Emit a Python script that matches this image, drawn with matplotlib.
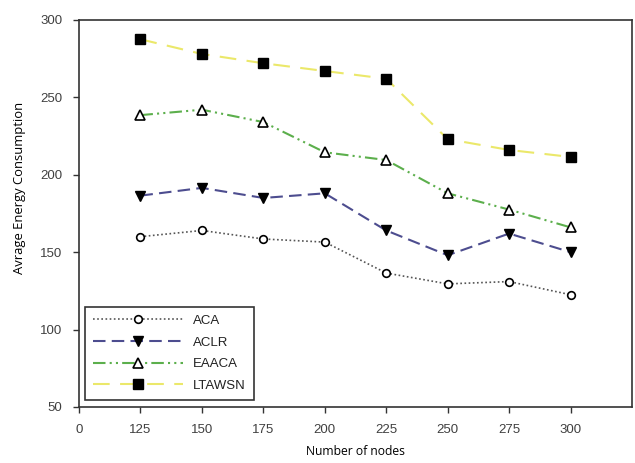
import matplotlib
matplotlib.use("Agg")
import matplotlib.pyplot as plt

# Data
node_labels = ["0", "125", "150", "175", "200", "225", "250", "275", "300"]
nodes_pos = [1, 2, 3, 4, 5, 6, 7, 8]

aca = [160, 164, 158.5, 156.5, 136.5, 129.5, 131, 122.5]
aclr = [186.5, 191.5, 185, 188, 164, 148, 162, 150]
eaaca = [238.5, 242, 234, 214.5, 209.5, 188, 177.5, 166]
ltawsn = [287.5, 278, 272, 267, 262, 223, 216, 211.5]

fig = plt.figure(figsize=(6.35, 4.63), dpi=100)
ax = fig.add_axes([0.1244, 0.121, 0.8709, 0.836])

ax.plot(nodes_pos, aca, color="#555555", linestyle=(0, (1, 1.5)), linewidth=1.2,
        marker="o", markersize=5.5, markerfacecolor="white", markeredgecolor="black",
        markeredgewidth=1.2, label="ACA")
ax.plot(nodes_pos, aclr, color="#4d4d8f", linestyle=(0, (6, 3)), linewidth=1.5,
        marker="v", markersize=7, markerfacecolor="black", markeredgecolor="black",
        label="ACLR")
ax.plot(nodes_pos, eaaca, color="#5caf4c", linestyle=(0, (6, 2, 1, 2, 1, 2)), linewidth=1.5,
        marker="^", markersize=7, markerfacecolor="white", markeredgecolor="black",
        markeredgewidth=1.2, label="EAACA")
ax.plot(nodes_pos, ltawsn, color="#ebe86a", linestyle=(0, (8, 5)), linewidth=1.5,
        marker="s", markersize=6.5, markerfacecolor="black", markeredgecolor="black",
        label="LTAWSN")

ax.set_xlim(0, 9)
ax.set_ylim(50, 300)
ax.set_xticks(range(len(node_labels)))
ax.set_xticklabels(node_labels)
ax.set_yticks([50, 100, 150, 200, 250, 300])

for lbl in ax.get_xticklabels() + ax.get_yticklabels():
    lbl.set_family("Liberation Sans")
    lbl.set_fontsize(9.5)
    lbl.set_color("#404040")
ax.tick_params(direction="out", length=4, width=1, color="#333333", pad=8)

for sp in ax.spines.values():
    sp.set_linewidth(1.2)
    sp.set_color("#333333")

ax.set_xlabel("Number of nodes", family="Open Sans", fontsize=8.7, labelpad=7)
ax.set_ylabel("Avrage Energy Consumption", family="Open Sans", fontsize=9.4)
ax.yaxis.set_label_coords(-0.096, 0.566)

leg = ax.legend(loc="lower left", bbox_to_anchor=(0.011, 0.018), borderaxespad=0,
                frameon=True, fancybox=False, edgecolor="black", handlelength=6.8,
                borderpad=0.6, labelspacing=0.72, handletextpad=0.8,
                prop={"family": "Liberation Sans", "size": 9.5})
leg.get_frame().set_linewidth(1.2)
for t in leg.get_texts():
    t.set_color("#222222")

fig.savefig("out.png", dpi=100)
